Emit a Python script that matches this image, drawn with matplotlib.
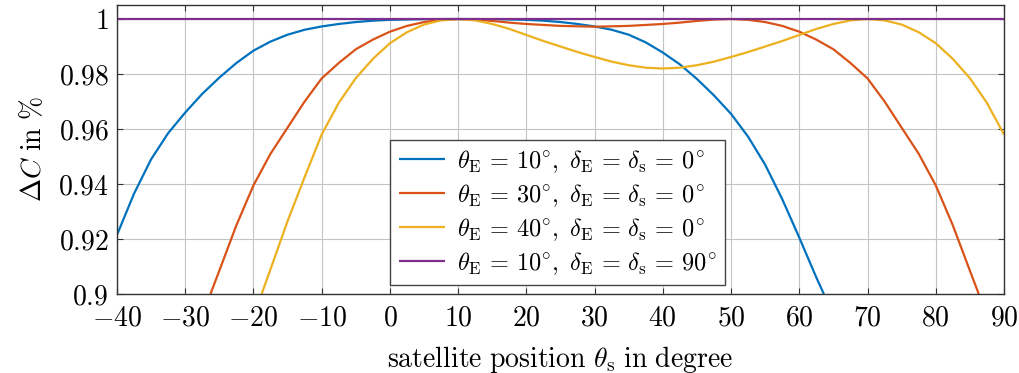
import matplotlib.pyplot as plt

plt.rcParams.update({
    "font.family": "cmr10",
    "mathtext.fontset": "cm",
    "axes.formatter.use_mathtext": True,
    "font.size": 20,
    "axes.edgecolor": "#333333",
    "axes.linewidth": 1.0,
    "xtick.direction": "in",
    "ytick.direction": "in",
    "xtick.top": True,
    "ytick.right": True,
    "xtick.major.size": 4,
    "ytick.major.size": 4,
    "xtick.color": "#333333",
    "ytick.color": "#333333",
    "xtick.labelcolor": "black",
    "ytick.labelcolor": "black",
})

# satellite position theta_s (deg) and relative capacity per configuration
pos_e10 = [-40, -37.5, -35, -32.5, -30, -27.5, -25, -22.5, -20, -17.5, -15, -12.5,
           -10, -7.5, -5, -2.5, 0, 5, 10, 15, 20, 22.5, 25, 27.5, 30, 32.5, 35,
           37.5, 40, 42.5, 45, 47.5, 50, 52.5, 55, 57.5, 60, 62.5, 63.6]
cap_e10 = [0.9215, 0.9365, 0.9490, 0.9585, 0.9660, 0.9728, 0.9787, 0.9840, 0.9885,
           0.9918, 0.9943, 0.9961, 0.9973, 0.9982, 0.9989, 0.9994, 0.9997, 0.99995,
           1.0, 0.99995, 0.9997, 0.9994, 0.9989, 0.9982, 0.9973, 0.9961, 0.9943,
           0.9915, 0.9878, 0.9835, 0.9782, 0.9722, 0.9655, 0.9572, 0.947, 0.9345,
           0.9205, 0.906, 0.9]

pos_e30 = [-26.3, -25, -22.5, -20, -17.5, -15, -12.5, -10, -7.5, -5, -2.5, 0, 2.5,
           5, 7.5, 10, 12.5, 15, 17.5, 20, 25, 30, 35, 40, 42.5, 45, 47.5, 50,
           52.5, 55, 57.5, 60, 62.5, 65, 67.5, 70, 72.5, 75, 77.5, 80, 82.5, 85,
           86.3]
cap_e30 = [0.9, 0.9085, 0.925, 0.9395, 0.951, 0.9605, 0.970, 0.9784, 0.984, 0.9890,
           0.9925, 0.9954, 0.9975, 0.9989, 0.9997, 1.0, 0.9998, 0.9993, 0.9987,
           0.9982, 0.9975, 0.9972, 0.9975, 0.9982, 0.9987, 0.9993, 0.9998, 1.0,
           0.9997, 0.9989, 0.9975, 0.9954, 0.9925, 0.9890, 0.984, 0.9784, 0.970,
           0.9605, 0.951, 0.9395, 0.925, 0.9085, 0.9]

pos_e40 = [-18.8, -17.5, -15, -12.5, -10, -7.5, -5, -2.5, 0, 2.5, 5, 7.5, 10, 12.5,
           15, 17.5, 20, 22.5, 25, 27.5, 30, 32.5, 35, 37.5, 40, 42.5, 45, 47.5,
           50, 52.5, 55, 57.5, 60, 62.5, 65, 67.5, 70, 72.5, 75, 77.5, 80, 82.5,
           85, 87.5, 90]
cap_e40 = [0.9, 0.909, 0.9265, 0.9425, 0.958, 0.9695, 0.9785, 0.9855, 0.9912,
           0.9952, 0.9980, 0.9995, 1.0, 0.9995, 0.9982, 0.9964, 0.9942, 0.9920,
           0.9900, 0.9880, 0.9862, 0.9845, 0.9832, 0.9823, 0.9820, 0.9823, 0.9832,
           0.9845, 0.9862, 0.9880, 0.9900, 0.9920, 0.9942, 0.9964, 0.9982, 0.9995,
           1.0, 0.9995, 0.9980, 0.9952, 0.9912, 0.9855, 0.9785, 0.9695, 0.958]

pos_e10_d90 = [-40, 90]
cap_e10_d90 = [1.0, 1.0]

elevations = [10, 30, 40, 10]
declinations = [0, 0, 0, 90]
colors = ["#0072BD", "#D95319", "#EDB120", "#7E2F8E"]

xticks = [-40, -30, -20, -10, 0, 10, 20, 30, 40, 50, 60, 70, 80, 90]
yticks = [0.9, 0.92, 0.94, 0.96, 0.98, 1.0]
ytick_labels = ["$0.9$", "$0.92$", "$0.94$", "$0.96$", "$0.98$", "$1$"]


def legend_label(el, dec):
    return (r"$\theta_{\mathrm{E}}\,=\,%d^{\!\circ}\!,\ \delta_{\mathrm{E}}\,=\,"
            r"\delta_{\mathrm{s}}\,=\,%d^{\!\circ}$" % (el, dec))


fig = plt.figure(figsize=(10.2, 3.73), dpi=100)
ax = fig.add_axes([0.1147, 0.2118, 0.8696, 0.7748])

series = [(pos_e10, cap_e10), (pos_e30, cap_e30), (pos_e40, cap_e40),
          (pos_e10_d90, cap_e10_d90)]
for (x, y), c, el, dec in zip(series, colors, elevations, declinations):
    ax.plot(x, y, color=c, lw=1.6, label=legend_label(el, dec),
            solid_capstyle="butt")

ax.set_xlim(-40, 90)
ax.set_ylim(0.9, 1.0051)
ax.set_xticks(xticks)
ax.set_xticklabels([f"${v}$" if v >= 0 else f"$-{abs(v)}$" for v in xticks])
ax.set_yticks(yticks)
ax.set_yticklabels(ytick_labels)
ax.tick_params(axis="x", labelsize=20, pad=8)
ax.tick_params(axis="y", labelsize=20, pad=6)
ax.grid(True, color="#c4c4c4", lw=0.8)
ax.set_axisbelow(True)

ax.set_xlabel(r"$\mathrm{satellite\ position}\ \theta_{\mathrm{s}}\ \mathrm{in\ degree}$",
              fontsize=20, labelpad=9)
ax.set_ylabel(r"$\Delta C\ \mathrm{in}\ \%$", fontsize=20, labelpad=8)

leg = ax.legend(loc="lower left", bbox_to_anchor=(0.308, 0.031), borderaxespad=0,
                fontsize=17.5, handlelength=1.9, handletextpad=0.5,
                labelspacing=0.3, borderpad=0.35, fancybox=False, framealpha=1)
leg.get_frame().set_edgecolor("#444444")
leg.get_frame().set_linewidth(1.0)

fig.savefig("out.png", dpi=100)
